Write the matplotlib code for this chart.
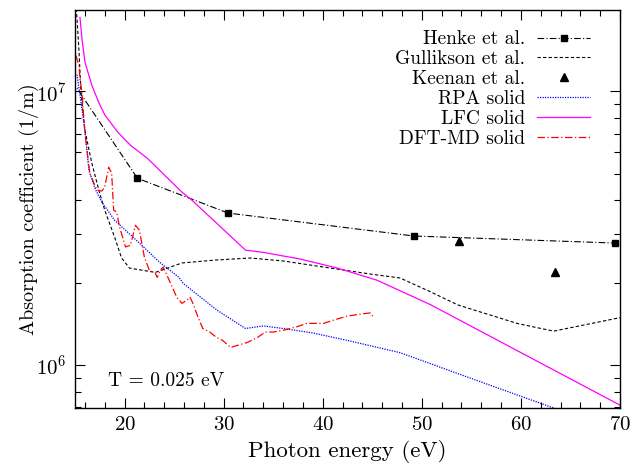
import numpy as np
import matplotlib
matplotlib.use('Agg')
import matplotlib.pyplot as plt
from matplotlib.ticker import MultipleLocator, LogLocator, NullFormatter

plt.rcParams['font.family'] = 'serif'
plt.rcParams['font.serif'] = ['cmr10']
plt.rcParams['mathtext.fontset'] = 'cm'
plt.rcParams['axes.formatter.use_mathtext'] = True

# Henke et al. (first point lies left of the axis, only its line shows)
henke_e = [14.0, 21.3, 30.45, 49.2, 69.5]
henke_a = [1.19e7, 4.81e6, 3.59e6, 2.96e6, 2.79e6]

# Gullikson et al.
gull_e = [15.1, 15.4, 15.6, 16.0, 16.7, 17.4, 18.0, 19.0, 19.7, 20.5, 23.1, 25.8,
          29.3, 32.7, 36.0, 40.8, 44.8, 47.8, 50.9, 53.6, 59.6, 63.3, 70.0]
gull_a = [2.1e7, 1.41e7, 9.9e6, 7.2e6, 5.46e6, 4.36e6, 3.68e6, 2.93e6, 2.46e6, 2.26e6, 2.18e6, 2.36e6,
          2.42e6, 2.46e6, 2.40e6, 2.26e6, 2.15e6, 2.08e6, 1.85e6, 1.66e6, 1.42e6, 1.33e6, 1.49e6]

# Keenan et al.
keenan_e = [53.8, 63.4]
keenan_a = [2.84e6, 2.18e6]

# RPA solid
rpa_e = [15.2, 15.5, 16.0, 16.4, 17.0, 17.7, 19.0, 21.5, 23.5, 25.5, 25.9, 29.3, 32.2,
         34.0, 36.0, 39.0, 42.5, 47.8, 55.5, 63.3, 70.0]
rpa_a = [1.15e7, 9.7e6, 7.2e6, 5.15e6, 4.43e6, 3.94e6, 3.38e6, 2.79e6, 2.38e6, 2.09e6, 1.99e6, 1.59e6, 1.36e6,
         1.39e6, 1.36e6, 1.31e6, 1.23e6, 1.11e6, 8.8e5, 6.97e5, 5.7e5]

# LFC solid
lfc_e = [15.5, 15.7, 16.0, 16.7, 17.4, 18.0, 19.4, 20.6, 22.3, 25.8, 26.8, 32.2,
         34.0, 37.7, 41.5, 45.5, 50.9, 70.0]
lfc_a = [1.86e7, 1.56e7, 1.28e7, 1.05e7, 9.1e6, 8.2e6, 7.03e6, 6.35e6, 5.69e6, 4.28e6, 4.0e6, 2.63e6,
         2.58e6, 2.44e6, 2.26e6, 2.04e6, 1.66e6, 7.14e5]

# DFT-MD solid
dft_e = [15.1, 15.4, 15.5, 15.7, 16.0, 16.5, 17.2, 17.7, 18.0, 18.4, 18.7, 18.9, 19.2, 19.5,
         20.1, 20.6, 21.1, 21.5, 22.0, 22.5, 23.1, 23.3, 23.6, 23.9, 24.4, 24.8, 25.3, 25.8,
         26.3, 26.6, 26.9, 27.4, 27.9, 28.6, 29.3, 29.9, 30.7, 31.4, 32.4, 33.4, 34.2, 35.0,
         36.0, 37.4, 38.4, 40.1, 41.1, 42.5, 44.1, 44.8, 45.1]
dft_a = [1.35e7, 1.24e7, 1.11e7, 9.9e6, 7.03e6, 5.02e6, 4.36e6, 4.32e6, 4.47e6, 5.28e6, 5.02e6, 3.68e6, 3.62e6, 3.19e6,
         2.70e6, 2.74e6, 3.24e6, 3.11e6, 2.48e6, 2.22e6, 2.17e6, 2.09e6, 2.22e6, 2.28e6, 2.08e6, 1.93e6, 1.76e6, 1.68e6,
         1.73e6, 1.77e6, 1.68e6, 1.50e6, 1.36e6, 1.32e6, 1.26e6, 1.23e6, 1.16e6, 1.18e6, 1.21e6, 1.26e6, 1.32e6, 1.32e6,
         1.34e6, 1.38e6, 1.42e6, 1.42e6, 1.46e6, 1.51e6, 1.54e6, 1.55e6, 1.50e6]


fig = plt.figure(figsize=(6.31, 4.70), dpi=100)
ax = fig.add_axes([75/631, 1 - 408/470, 545/631, 398/470])

ax.plot(henke_e, henke_a, color='black', ls=(0, (6, 2, 1, 2)), lw=0.8,
        marker='s', ms=5, label='Henke et al.')
ax.plot(gull_e, gull_a, color='black', ls=(0, (3, 2)), lw=0.8, label='Gullikson et al.')
ax.plot(keenan_e, keenan_a, color='black', ls='none', marker='^', ms=6, label='Keenan et al.')
ax.plot(rpa_e, rpa_a, color='blue', ls=(0, (1, 1)), lw=0.9, label='RPA solid')
ax.plot(lfc_e, lfc_a, color='magenta', ls='-', lw=0.9, label='LFC solid')
ax.plot(dft_e, dft_a, color='red', ls=(0, (6, 2, 1, 2)), lw=0.9, label='DFT-MD solid')

ax.set_yscale('log')
ax.set_xlim(15, 70)
ax.set_ylim(6.97e5, 1.98e7)
ax.xaxis.set_major_locator(MultipleLocator(10))
ax.xaxis.set_minor_locator(MultipleLocator(2))
ax.yaxis.set_minor_locator(LogLocator(base=10, subs=np.arange(2, 10)))
ax.yaxis.set_minor_formatter(NullFormatter())
ax.tick_params(which='both', direction='in', top=True, right=True, labelsize=15)
ax.tick_params(which='major', length=7, width=0.8, pad=6)
ax.tick_params(which='minor', length=4, width=0.8)
for s in ax.spines.values():
    s.set_linewidth(1.0)

ax.set_xlabel('Photon energy (eV)', fontsize=16.5)
ax.set_ylabel('Absorption coefficient (1/m)', fontsize=14.5, labelpad=-2)
ax.text(0.06, 0.055, 'T = 0.025 eV', transform=ax.transAxes, fontsize=14)

ax.legend(loc='upper right', bbox_to_anchor=(0.96, 0.968), frameon=False,
          markerfirst=False, fontsize=14, handlelength=2.75, handletextpad=0.6,
          labelspacing=0.1, numpoints=1, borderaxespad=0.0)

fig.savefig('out.png', dpi=100)
